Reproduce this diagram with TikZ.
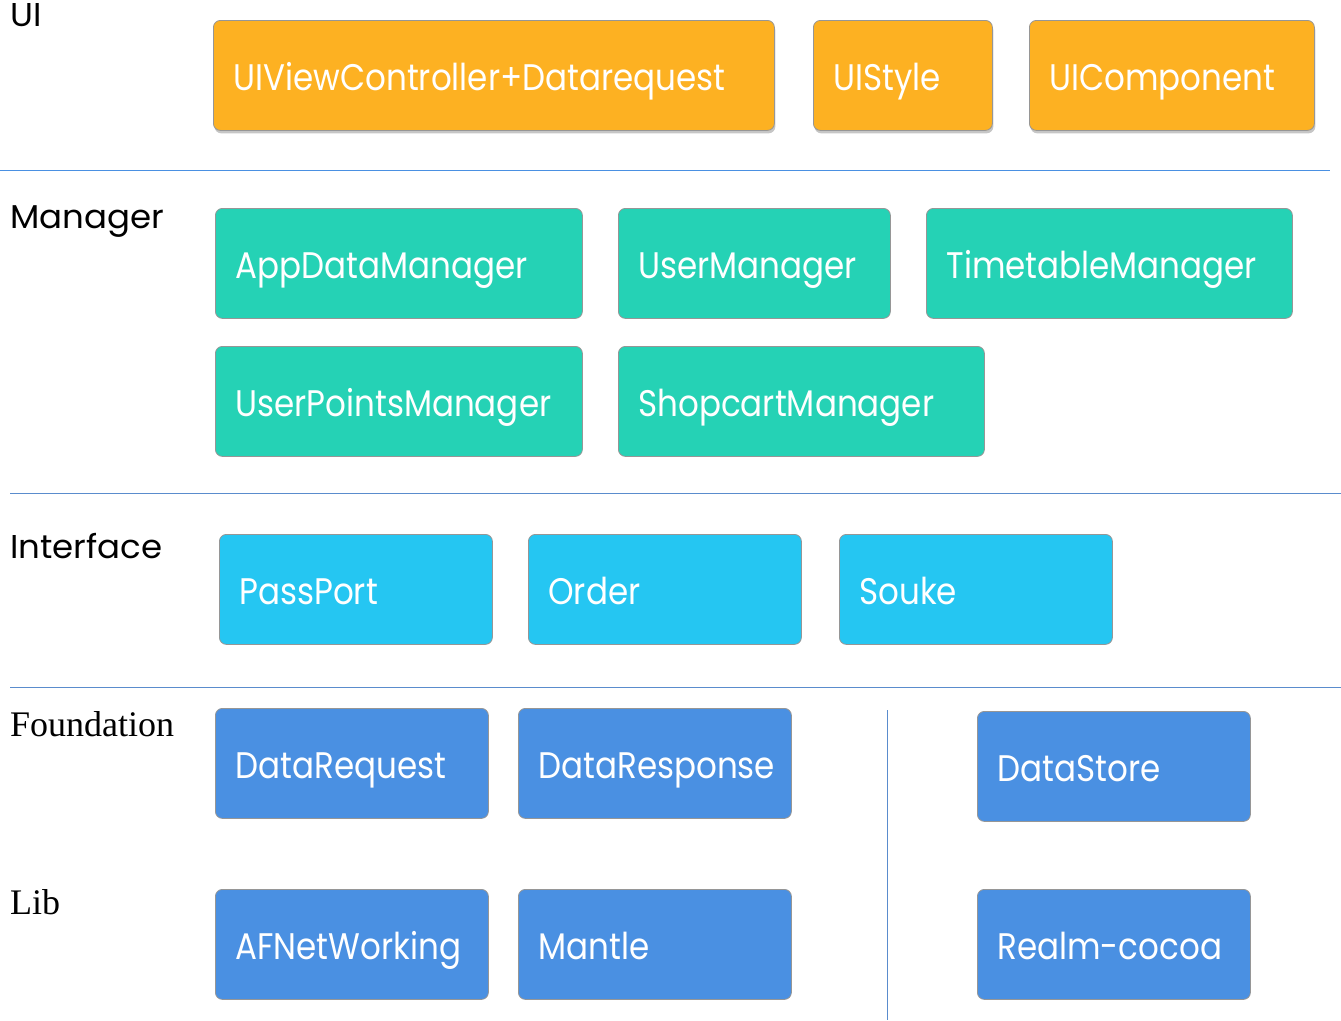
\documentclass[tikz,border=0pt]{standalone}
\usepackage{fontspec}
\setmainfont{Liberation Serif}
\newfontfamily\gfont[FakeStretch=0.88]{Poppins}
\newfontfamily\lfont[FakeStretch=1.03]{Poppins}
\usetikzlibrary{shadows}
\definecolor{uiorange}{RGB}{253,177,34}
\definecolor{mgteal}{RGB}{37,210,181}
\definecolor{ifcyan}{RGB}{37,198,242}
\definecolor{fdblue}{RGB}{74,144,226}
\definecolor{sepblue}{RGB}{74,144,226}
\definecolor{sepsteel}{RGB}{90,140,205}
\definecolor{boxborder}{RGB}{150,150,150}
\tikzset{
  x=1pt, y=-1pt,
  layerbox/.style={draw=boxborder, line width=0.8pt, rounded corners=7pt,
    anchor=north west, minimum height=110pt, inner xsep=20pt, inner ysep=0pt,
    align=left, text=white, text height=30pt, text depth=0pt,
    font=\gfont\fontsize{37}{40}\selectfont},
  uibox/.style={layerbox, fill=uiorange,
    drop shadow={opacity=0.45, shadow xshift=1pt, shadow yshift=-3pt}},
  mgbox/.style={layerbox, fill=mgteal},
  ifbox/.style={layerbox, fill=ifcyan},
  fdbox/.style={layerbox, fill=fdblue},
  layerlabel/.style={anchor=base west, inner sep=0pt, text=black},
  sanslabel/.style={layerlabel, font=\lfont\fontsize{33}{36}\selectfont},
  seriflabel/.style={layerlabel, font=\fontsize{36}{40}\selectfont},
  sepline/.style={line width=1pt},
}
\newcommand{\lbox}[6]{% style, name, x, y, width, text
  \node[#1, minimum width=#5pt, text width=#5pt-40pt] (#2) at (#3,#4) {#6};}
\begin{document}
\begin{tikzpicture}
\useasboundingbox (0,0) rectangle (1341,1020);
% layer labels
\node[sanslabel] (lui) at (10,26) {UI};
\node[sanslabel] (lmg) at (10,228) {Manager};
\node[sanslabel] (lif) at (10,558) {Interface};
\node[seriflabel] (lfd) at (10,736) {Foundation};
\node[seriflabel] (llib) at (10,914) {Lib};
% separators
\coordinate (s1a) at (0,170); \coordinate (s1b) at (1330,170);
\coordinate (s2a) at (10,493); \coordinate (s2b) at (1341,493);
\coordinate (s3a) at (10,687); \coordinate (s3b) at (1341,687);
\coordinate (v1a) at (887,710); \coordinate (v1b) at (887,1020);
\draw[sepline, sepblue] (s1a) -- (s1b);
\draw[sepline, sepsteel] (s2a) -- (s2b);
\draw[sepline, sepsteel] (s3a) -- (s3b);
\draw[sepline, sepsteel] (v1a) -- (v1b);
% UI
\lbox{uibox}{uivc}{213}{20}{561}{UIViewController+Datarequest}
\lbox{uibox}{uistyle}{813}{20}{179}{UIStyle}
\lbox{uibox}{uicomp}{1029}{20}{285}{UIComponent}
% Manager
\lbox{mgbox}{appdm}{215}{208}{367}{AppDataManager}
\lbox{mgbox}{userm}{618}{208}{272}{UserManager}
\lbox{mgbox}{timem}{926}{208}{366}{TimetableManager}
\lbox{mgbox}{upm}{215}{346}{367}{UserPointsManager}
\lbox{mgbox}{shopm}{618}{346}{366}{ShopcartManager}
% Interface
\lbox{ifbox}{pass}{219}{534}{273}{PassPort}
\lbox{ifbox}{order}{528}{534}{273}{Order}
\lbox{ifbox}{souke}{839}{534}{273}{Souke}
% Foundation
\lbox{fdbox}{dreq}{215}{708}{273}{DataRequest}
\lbox{fdbox}{dresp}{518}{708}{273}{DataResponse}
\lbox{fdbox}{dstore}{977}{711}{273}{DataStore}
% Lib
\lbox{fdbox}{afn}{215}{889}{273}{AFNetWorking}
\lbox{fdbox}{mantle}{518}{889}{273}{Mantle}
\lbox{fdbox}{realm}{977}{889}{273}{Realm-cocoa}
\end{tikzpicture}
\end{document}
